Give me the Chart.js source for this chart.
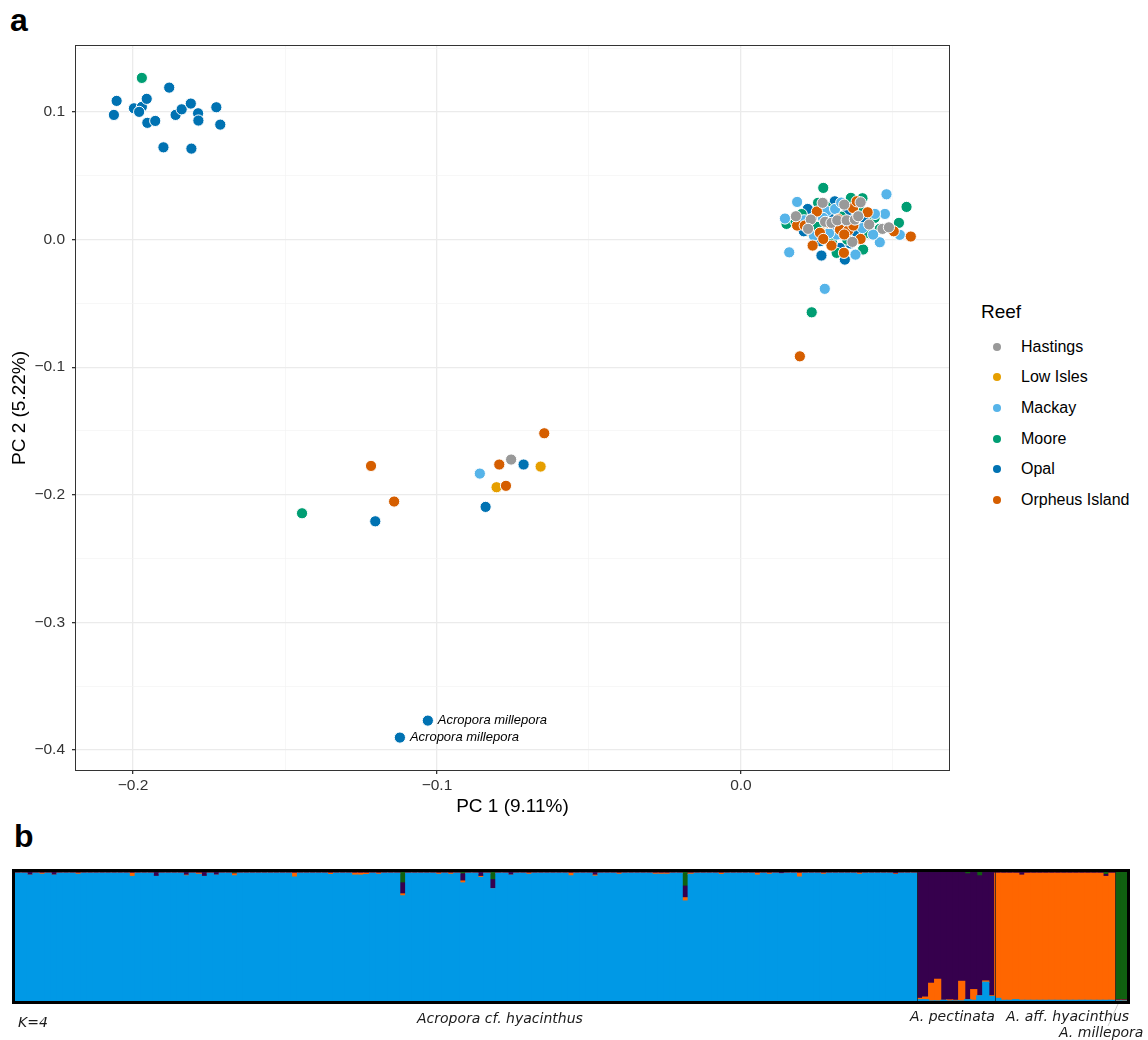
<!DOCTYPE html>
<html>
<head>
<meta charset="utf-8">
<script src="https://cdn.jsdelivr.net/npm/chart.js@4.4.1/dist/chart.umd.min.js"></script>
<style>
  body { margin: 0; background: #fff; width: 1148px; height: 1040px; position: relative; overflow: hidden;
         font-family: "Liberation Sans", Arial, sans-serif; }
  .panel { position: absolute; font-weight: bold; font-size: 32px; line-height: 32px; color: #000; }
  #pca { position: absolute; left: 0; top: 0; }
  #legend { position: absolute; left: 0; top: 0; }
  .lg-title { position: absolute; left: 981px; top: 301px; font-size: 19px; line-height: 22px; }
  .lg-row { position: absolute; left: 991px; height: 20px; line-height: 20px; font-size: 16px; }
  .lg-row i { position: absolute; left: 2px; top: 6px; width: 8px; height: 8px; border-radius: 50%; }
  .lg-row span { position: absolute; left: 30px; white-space: nowrap; }
  #admBox { position: absolute; left: 12px; top: 869px; width: 1112px; height: 129px; border: 3px solid #000; }
  #adm { display: block; }
  .sp { position: absolute; font-family: "DejaVu Sans", sans-serif; font-style: italic; font-size: 14px;
        line-height: 16px; white-space: nowrap; color: #1a1a1a; }
</style>
</head>
<body>
<div class="panel" style="left:10px;top:4px;">a</div>
<canvas id="pca" width="960" height="818"></canvas>
<div id="legend"></div>
<div class="panel" style="left:14px;top:820px;">b</div>
<div id="admBox"><canvas id="adm" width="1112" height="129"></canvas></div>
<svg style="position:absolute;left:0;top:0;" width="1148" height="1040">
  <line x1="1118" y1="1004" x2="1108" y2="1026" stroke="#bbb" stroke-width="0.8"/>
</svg>
<div class="sp" style="left:18px;top:1014px;">K=4</div>
<div class="sp" style="left:417px;top:1010px;">Acropora cf. hyacinthus</div>
<div class="sp" style="left:910px;top:1008px;">A. pectinata</div>
<div class="sp" style="left:1006px;top:1008px;">A. aff. hyacinthus</div>
<div class="sp" style="left:1059px;top:1024px;">A. millepora</div>

<script>
// ---- panel a: PCA scores ----
const reefs = ['Hastings', 'Low Isles', 'Mackay', 'Moore', 'Opal', 'Orpheus Island'];
const reefColors = ['#999999', '#E69F00', '#56B4E9', '#009E73', '#0072B2', '#D55E00'];
const drawOrder = [0, 6, 3, 4, 5, 1]; // lower = on top

const hastingsX = [0.0181, 0.0230, 0.0221, 0.0269, 0.0277, 0.0298, 0.0317, 0.0340, 0.0348, 0.0375, 0.0386, 0.0394, 0.0422, 0.0367, 0.0466, 0.0487, -0.0756];
const hastingsY = [0.0183, 0.0157, 0.0084, 0.0288, 0.0139, 0.0131, 0.0151, 0.0274, 0.0151, 0.0157, 0.0183, 0.0292, 0.0118, -0.0018, 0.0084, 0.0096, -0.1724];

const lowIslesX = [0.0230, 0.0265, -0.0659, -0.0804];
const lowIslesY = [0.0057, 0.0120, -0.1779, -0.1941];

const mackayX = [0.0185, 0.0145, 0.0159, 0.0276, 0.0479, 0.0474, 0.0457, 0.0377, 0.0441, 0.0523, 0.0282, 0.0208, 0.0315, 0.0435,
                 0.0270, 0.0310, 0.0360, 0.0240, 0.0400, 0.0290, 0.0330, 0.0380, -0.0859];
const mackayY = [0.0295, 0.0165, -0.0100, -0.0386, 0.0355, 0.0201, -0.0021, -0.0118, 0.0201, 0.0037, 0.0222, 0.0151, 0.0039, 0.0039,
                 0.0170, 0.0240, 0.0140, 0.0030, 0.0090, 0.0050, 0.0290, 0.0180, -0.1834];

const mooreX = [0.0271, 0.0362, 0.0400, 0.0545, 0.0520, 0.0150, 0.0402, 0.0315, 0.0233, 0.0254, 0.0457, 0.0280, 0.0330, 0.0250,
                0.0390, 0.0300, 0.0420, 0.0200, 0.0350, 0.0440, 0.0180, -0.1971, -0.1444];
const mooreY = [0.0405, 0.0327, 0.0324, 0.0256, 0.0131, 0.0123, -0.0078, -0.0104, -0.0570, 0.0288, 0.0084, 0.0260, 0.0180, 0.0100,
                0.0230, -0.0020, 0.0050, 0.0200, 0.0000, 0.0170, 0.0140, 0.1267, -0.2145];

const opalX = [-0.2054, -0.2063, -0.1997, -0.1971, -0.1955, -0.1980, -0.1953, -0.1927, -0.1881, -0.1900, -0.1808, -0.1860, -0.1840,
               -0.1810, -0.1786, -0.1785, -0.1726, -0.1713, -0.1203, -0.0715, -0.0840, -0.1030, -0.1122,
               0.0309, 0.0265, 0.0342, 0.0207, 0.0326, 0.0260, 0.0290, 0.0330, 0.0240, 0.0380, 0.0280, 0.0350, 0.0220, 0.0410, 0.0300, 0.0360];
const opalY = [0.1087, 0.0977, 0.1029, 0.1040, 0.1103, 0.1001, 0.0915, 0.0930, 0.1191, 0.0723, 0.0713, 0.0977, 0.1021,
               0.1066, 0.0990, 0.0933, 0.1037, 0.0901, -0.2208, -0.1763, -0.2095, -0.3770, -0.3903,
               0.0300, -0.0125, -0.0157, 0.0065, -0.0065, -0.0013, 0.0200, 0.0120, 0.0190, 0.0060, 0.0010, 0.0210, 0.0240, 0.0150, 0.0090, -0.0030];

const orpheusX = [0.0185, 0.0236, 0.0298, 0.0339, 0.0326, 0.0353, 0.0369, 0.0417, 0.0394, 0.0260, 0.0271, 0.0503, 0.0559, 0.0381,
                  0.0194, 0.0250, 0.0320, 0.0290, 0.0370, 0.0210, 0.0340, -0.1217, -0.1141, -0.0795, -0.0647, -0.0773];
const orpheusY = [0.0110, -0.0047, -0.0047, -0.0104, 0.0078, 0.0071, 0.0248, 0.0214, 0.0005, 0.0053, 0.0005, 0.0065, 0.0024, 0.0300,
                  -0.0915, 0.0220, 0.0160, 0.0130, 0.0110, 0.0110, 0.0040, -0.1774, -0.2053, -0.1763, -0.1518, -0.1930];

const milleporaX = [-0.1030, -0.1122];
const milleporaY = [-0.3770, -0.3903];

const xTicks = [-0.2, -0.15, -0.1, -0.05, 0, 0.05];
const yTicks = [-0.4, -0.35, -0.3, -0.25, -0.2, -0.15, -0.1, -0.05, 0, 0.05, 0.1, 0.15];

const seriesX = [hastingsX, lowIslesX, mackayX, mooreX, opalX, orpheusX];
const seriesY = [hastingsY, lowIslesY, mackayY, mooreY, opalY, orpheusY];

const isMajor = v => Math.abs(v * 10 - Math.round(v * 10)) < 1e-6;
const fmt = v => (v < -1e-9 ? '\u2212' : '') + Math.abs(v).toFixed(1);

function axisOpts(tickList, min, max) {
  return {
    type: 'linear', min: min, max: max,
    afterBuildTicks: s => { s.ticks = tickList.map(v => ({ value: v })); },
    ticks: {
      autoSkip: false, color: '#333', font: { size: 15.5 },
      callback: v => isMajor(v) ? fmt(v) : ''
    },
    grid: {
      color: c => isMajor(c.tick.value) ? '#ebebeb' : '#f4f4f4',
      lineWidth: c => isMajor(c.tick.value) ? 1.3 : 0.7,
      tickColor: c => isMajor(c.tick.value) ? '#333' : 'rgba(0,0,0,0)',
      tickLength: 3
    },
    border: { display: false }
  };
}

const frame = {
  id: 'frame',
  afterDraw(chart) {
    const { ctx, chartArea: a, scales } = chart;
    ctx.save();
    ctx.strokeStyle = '#333';
    ctx.lineWidth = 1;
    ctx.strokeRect(a.left + 0.5, a.top + 0.5, a.right - a.left - 1, a.bottom - a.top - 1);
    ctx.fillStyle = '#000';
    ctx.font = 'italic 13px "Liberation Sans", Arial, sans-serif';
    ctx.textBaseline = 'middle';
    milleporaX.forEach((x, i) => {
      ctx.fillText('Acropora millepora', scales.x.getPixelForValue(x) + 10, scales.y.getPixelForValue(milleporaY[i]));
    });
    ctx.restore();
  }
};

Chart.defaults.font.family = '"Liberation Sans", Arial, sans-serif';

const xo = axisOpts(xTicks, -0.2191, 0.0688);
xo.ticks.padding = 2;
xo.title = { display: true, text: 'PC 1 (9.11%)', color: '#000', font: { size: 19 }, padding: 0 };
xo.afterFit = s => { s.height = 47; };
const yo = axisOpts(yTicks, -0.4165, 0.1525);
yo.ticks.padding = 7;
yo.title = { display: true, text: 'PC 2 (5.22%)', color: '#000', font: { size: 19 }, padding: { top: 8, bottom: 0 } };
yo.afterFit = s => { s.width = 75; };

new Chart(document.getElementById('pca'), {
  type: 'scatter',
  data: {
    datasets: reefs.map((r, k) => ({
      label: r,
      order: drawOrder[k],
      data: seriesX[k].map((x, i) => ({ x: x, y: seriesY[k][i] })),
      backgroundColor: reefColors[k],
      borderColor: '#ffffff',
      borderWidth: 1,
      pointRadius: 5.6
    }))
  },
  options: {
    responsive: false, animation: false, devicePixelRatio: 1,
    layout: { padding: { top: 45, right: 10, left: 0, bottom: 0 } },
    scales: { x: xo, y: yo },
    plugins: { legend: { display: false }, tooltip: { enabled: false } }
  },
  plugins: [frame]
});

// legend (html)
const lg = document.getElementById('legend');
lg.innerHTML = '<div class="lg-title">Reef</div>' + reefs.map((r, i) =>
  `<div class="lg-row" style="top:${(336.7 + i * 30.65).toFixed(1)}px"><i style="background:${reefColors[i]}"></i><span>${r}</span></div>`
).join('');

// ---- panel b: admixture proportions, K = 4 ----
const groupSizes = [150, 13, 20, 2];
const kColors = ['#0099E6', '#FF6600', '#36004D', '#106010']; // blue, orange, purple, green (bottom to top)

const qBlue = [
  .99, .99, .975, .99, .982, .99, .975, .99, .99, .99,
  .982, .99, .99, .99, .99, .99, .99, .99, .99, .965,
  .99, .99, .99, .965, .99, .99, .99, .99, .97, .99,
  .982, .965, .99, .975, .99, .99, .97, .99, .99, .99,
  .99, .99, .99, .99, .99, .99, .96, .99, .99, .99,
  .99, .99, .98, .99, .99, .99, .975, .975, .98, .99,
  .982, .99, .99, .99, .815, .99, .99, .99, .99, .99,
  .982, .99, .982, .99, .915, .99, .99, .957, .99, .87,
  .99, .99, .975, .99, .99, .982, .99, .99, .99, .99,
  .99, .99, .97, .99, .99, .99, .967, .99, .99, .99,
  .982, .99, .99, .99, .99, .99, .982, .982, .982, .99,
  .99, .775, .982, .99, .99, .99, .99, .98, .99, .99,
  .99, .99, .99, .975, .99, .982, .99, .985, .99, .99,
  .96, .99, .99, .99, .982, .99, .99, .99, .99, .99,
  .982, .99, .99, .99, .99, .99, .98, .99, .99, .99,
  .01, .01, 0, 0, .005, 0, 0, 0, .01, .005, .04, .145, .035,
  .02, .005, .005, .01, .005, .005, .005, .005, .005, .005,
  .005, .005, .005, .005, .005, .005, .005, .005, .005, .005,
  0, 0
];
const qOrange = [
  0, 0, 0, 0, .008, 0, 0, 0, 0, 0,
  .008, 0, 0, 0, 0, 0, 0, 0, 0, .025,
  0, 0, 0, 0, 0, 0, 0, 0, .005, 0,
  .008, 0, 0, 0, 0, 0, .015, 0, 0, 0,
  0, 0, 0, 0, 0, 0, .03, 0, 0, 0,
  0, 0, .01, 0, 0, 0, .015, .015, .01, 0,
  .008, 0, 0, 0, .015, 0, 0, 0, 0, 0,
  .008, 0, .008, 0, .015, 0, 0, .008, 0, 0,
  0, 0, 0, 0, 0, .008, 0, 0, 0, 0,
  0, 0, .02, 0, 0, 0, .008, 0, 0, 0,
  .008, 0, 0, 0, 0, 0, .008, .008, .008, 0,
  0, .025, .008, 0, 0, 0, 0, .01, 0, 0,
  0, 0, 0, .015, 0, .008, 0, 0, 0, 0,
  .03, 0, 0, 0, .008, 0, 0, 0, 0, 0,
  .008, 0, 0, 0, 0, 0, .005, 0, 0, 0,
  .01, .02, .137, .168, 0, .008, .005, .152, 0, .083, 0, .01, .005,
  .97, .985, .985, .98, .97, .985, .985, .985, .985, .985,
  .985, .985, .985, .985, .985, .985, .985, .985, .96, .985,
  .005, .005
];
const qPurple = [
  .005, .005, .02, .005, .005, .005, .02, .005, .005, .005,
  .005, .005, .005, .005, .005, .005, .005, .005, .005, .005,
  .005, .005, .005, .03, .005, .005, .005, .005, .02, .005,
  .005, .03, .005, .02, .005, .005, .005, .005, .005, .005,
  .005, .005, .005, .005, .005, .005, .005, .005, .005, .005,
  .005, .005, .005, .005, .005, .005, .005, .005, .005, .005,
  .005, .005, .005, .005, .085, .005, .005, .005, .005, .005,
  .005, .005, .005, .005, .055, .005, .005, .03, .005, .07,
  .005, .005, .02, .005, .005, .005, .005, .005, .005, .005,
  .005, .005, .005, .005, .005, .005, .02, .005, .005, .005,
  .005, .005, .005, .005, .005, .005, .005, .005, .005, .005,
  .005, .09, .005, .005, .005, .005, .005, .005, .005, .005,
  .005, .005, .005, .005, .005, .005, .005, .01, .005, .005,
  .005, .005, .005, .005, .005, .005, .005, .005, .005, .005,
  .005, .005, .005, .005, .005, .005, .01, .005, .005, .005,
  .975, .965, .858, .827, .99, .987, .99, .843, .975, .907, .93, .84, .955,
  .005, .005, .005, .005, .02, .005, .005, .005, .005, .005,
  .005, .005, .005, .005, .005, .005, .005, .005, .015, .005,
  .005, .005
];
const qGreen = [
  .005, .005, .005, .005, .005, .005, .005, .005, .005, .005,
  .005, .005, .005, .005, .005, .005, .005, .005, .005, .005,
  .005, .005, .005, .005, .005, .005, .005, .005, .005, .005,
  .005, .005, .005, .005, .005, .005, .01, .005, .005, .005,
  .005, .005, .005, .005, .005, .005, .005, .005, .005, .005,
  .005, .005, .005, .005, .005, .005, .005, .005, .005, .005,
  .005, .005, .005, .005, .085, .005, .005, .005, .005, .005,
  .005, .005, .005, .005, .015, .005, .005, .005, .005, .06,
  .005, .005, .005, .005, .005, .005, .005, .005, .005, .005,
  .005, .005, .005, .005, .005, .005, .005, .005, .005, .005,
  .005, .005, .005, .005, .005, .005, .005, .005, .005, .005,
  .005, .11, .005, .005, .005, .005, .005, .005, .005, .005,
  .005, .005, .005, .005, .005, .005, .005, .005, .005, .005,
  .005, .005, .005, .005, .005, .005, .005, .005, .005, .005,
  .005, .005, .005, .005, .005, .005, .005, .005, .005, .005,
  .005, .005, .005, .005, .005, .005, .005, .005, .015, .005, .03, .005, .005,
  .005, .005, .005, .005, .005, .005, .005, .005, .005, .005,
  .005, .005, .005, .005, .005, .005, .005, .005, .02, .005,
  .99, .99
];

const separators = {
  id: 'separators',
  afterDatasetsDraw(chart) {
    const { ctx, chartArea: a, scales } = chart;
    ctx.save();
    ctx.strokeStyle = 'rgba(30,30,30,0.75)';
    ctx.lineWidth = 1;
    let n = 0;
    groupSizes.slice(0, -1).forEach(g => {
      n += g;
      const px = Math.round((scales.x.getPixelForValue(n - 1) + scales.x.getPixelForValue(n)) / 2) + 0.5;
      ctx.beginPath(); ctx.moveTo(px, a.top); ctx.lineTo(px, a.bottom); ctx.stroke();
    });
    ctx.restore();
  }
};

new Chart(document.getElementById('adm'), {
  type: 'bar',
  data: {
    labels: qBlue.map((_, i) => String(i + 1)),
    datasets: [qBlue, qOrange, qPurple, qGreen].map((q, k) => ({
      data: q, backgroundColor: kColors[k], borderWidth: 0, inflateAmount: 0.6,
      categoryPercentage: 1, barPercentage: 1
    }))
  },
  options: {
    responsive: false, animation: false, devicePixelRatio: 1,
    layout: { padding: 0 },
    scales: {
      x: { stacked: true, display: false },
      y: { stacked: true, display: false, min: 0, max: 1 }
    },
    plugins: { legend: { display: false }, tooltip: { enabled: false } }
  },
  plugins: [separators]
});
</script>
</body>
</html>
